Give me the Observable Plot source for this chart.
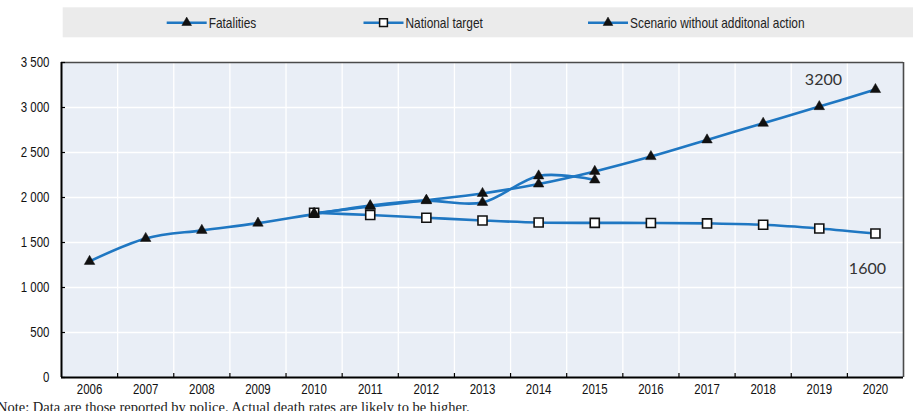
<!DOCTYPE html>
<html>
<head>
<meta charset="utf-8">
<script src="https://cdn.jsdelivr.net/npm/d3@7"></script>
<script src="https://cdn.jsdelivr.net/npm/@observablehq/plot@0.6"></script>
<style>
  html, body { margin: 0; padding: 0; background: #ffffff; overflow: hidden; }
  #wrap { position: relative; width: 913px; height: 411px; overflow: hidden; }
  #legend { position: absolute; left: 0; top: 0; }
  #chart { position: absolute; left: 0; top: 44px; }
  #note { position: absolute; left: -3px; top: 400px; white-space: nowrap;
          font-family: "Liberation Serif", "DejaVu Serif", serif; font-size: 14.5px; line-height: 1; color: #222; }
</style>
</head>
<body>
<div id="wrap">
  <div id="legend"></div>
  <div id="chart"></div>
  <div id="note">Note: Data are those reported by police. Actual death rates are likely to be higher.</div>
</div>
<script>
// ---- Data ----
const years = [2006, 2007, 2008, 2009, 2010, 2011, 2012, 2013, 2014, 2015, 2016, 2017, 2018, 2019, 2020];
const fatalities = [1290, 1545, 1635, 1715, 1815, 1910, 1965, 1945, 2240, 2195, null, null, null, null, null];
const nationalTarget = [null, null, null, null, 1830, 1805, 1775, 1745, 1722, 1718, 1717, 1712, 1697, 1656, 1600];
const scenario = [null, null, null, null, 1825, 1900, 1970, 2045, 2150, 2290, 2455, 2640, 2825, 3010, 3200];
const seriesNames = ["Fatalities", "National target", "Scenario without additonal action"];
const yTicks = [0, 500, 1000, 1500, 2000, 2500, 3000, 3500];
const endLabels = [{series: "target", text: "1600"}, {series: "scenario", text: "3200"}];

// ---- Styles ----
const blue = "#1f77c2";
const bg = "#e9eef6";
const sans = "'Liberation Sans', Arial, sans-serif";
const condenseFactor = 0.82; // emulate a narrow face

const rows = [];
years.forEach((yr, i) => {
  rows.push({year: yr, series: "fatalities", value: fatalities[i]});
  rows.push({year: yr, series: "target", value: nationalTarget[i]});
  rows.push({year: yr, series: "scenario", value: scenario[i]});
});
const bySeries = s => rows.filter(d => d.series === s);
const defined = s => bySeries(s).filter(d => d.value != null);

const xMin = d3.min(years) - 0.5, xMax = d3.max(years) + 0.5;
const boundaries = years.slice(0, -1).map(y => y + 0.5);
const yMax = d3.max(yTicks);
const fmt = d3.formatLocale({decimal: ".", thousands: " ", grouping: [3], currency: ["", ""]}).format(",d");

const lastPoint = s => { const d = defined(s); return d[d.length - 1]; };
const labelRows = endLabels.map(l => ({...lastPoint(l.series), text: l.text}));

const chart = Plot.plot({
  width: 913,
  height: 351,
  marginTop: 18,
  marginBottom: 18,
  marginLeft: 61,
  marginRight: 10,
  style: {fontFamily: sans, fontSize: "14px", color: "#111", background: "transparent", overflow: "visible"},
  x: {domain: [xMin, xMax], label: null},
  y: {domain: [0, yMax], label: null},
  marks: [
    Plot.frame({fill: bg, stroke: null}),
    Plot.ruleY(yTicks.filter(v => v > 0 && v < yMax), {stroke: "#ffffff", strokeWidth: 1.3}),
    Plot.ruleX(boundaries, {stroke: "#ffffff", strokeWidth: 1.3}),
    Plot.ruleY([yMax], {stroke: "#4a4a4a", strokeWidth: 1.6}),
    Plot.ruleX([xMax], {stroke: "#4a4a4a", strokeWidth: 1.6}),
    Plot.ruleX([xMin], {stroke: "#000000", strokeWidth: 2}),
    Plot.ruleY([0], {stroke: "#000000", strokeWidth: 2}),
    Plot.ruleX(boundaries, {y1: 0, y2: 0, insetTop: -4, stroke: "#000", strokeWidth: 1.2}),
    Plot.ruleY(yTicks, {x1: xMin, x2: xMin, insetRight: -4, stroke: "#000", strokeWidth: 1.2}),
    Plot.axisX({ticks: years, tickFormat: d => String(d), tickSize: 0, tickPadding: 7, fontSize: 14, fill: "#111", label: null}),
    Plot.axisY({ticks: yTicks, tickFormat: fmt, tickSize: 0, tickPadding: 12, fontSize: 14, fill: "#111", label: null}),
    Plot.line(bySeries("target"), {x: "year", y: "value", stroke: blue, strokeWidth: 2.6, curve: "cardinal"}),
    Plot.line(bySeries("scenario"), {x: "year", y: "value", stroke: blue, strokeWidth: 2.6, curve: "cardinal"}),
    Plot.line(bySeries("fatalities"), {x: "year", y: "value", stroke: blue, strokeWidth: 2.6, curve: "cardinal"}),
    Plot.dot(defined("target"), {x: "year", y: "value", symbol: "square", r: 5.1, fill: "#ffffff", stroke: "#111", strokeWidth: 1.6}),
    Plot.dot(defined("scenario"), {x: "year", y: "value", symbol: "triangle", r: 3.9, fill: "#111", stroke: "#111", strokeWidth: 0.5}),
    Plot.dot(defined("fatalities"), {x: "year", y: "value", symbol: "triangle", r: 3.9, fill: "#111", stroke: "#111", strokeWidth: 0.5}),
    Plot.text(labelRows.filter(d => d.series === "scenario"), {x: "year", y: "value", text: "text", dx: -52, dy: -10,
      fontFamily: "Lato, 'Open Sans', sans-serif", fontSize: 16, fill: "#333", textAnchor: "middle", lineAnchor: "middle"}),
    Plot.text(labelRows.filter(d => d.series === "target"), {x: "year", y: "value", text: "text", dx: -8, dy: 35,
      fontFamily: "Lato, 'Open Sans', sans-serif", fontSize: 16, fill: "#333", textAnchor: "middle", lineAnchor: "middle"})
  ]
});
document.getElementById("chart").appendChild(chart);

function condense(nodes) {
  nodes.forEach(t => {
    const w = t.getComputedTextLength();
    if (w > 0) {
      t.setAttribute("textLength", (w * condenseFactor).toFixed(2));
      t.setAttribute("lengthAdjust", "spacingAndGlyphs");
    }
  });
}
condense(chart.querySelectorAll('g[aria-label$="tick label"] text'));

// ---- Legend ----
const lg = d3.select("#legend").append("svg").attr("width", 913).attr("height", 44);
lg.append("rect").attr("x", 62.7).attr("y", 7.3).attr("width", 913 - 62.7).attr("height", 30).attr("fill", "#ebebeb");
const legendItems = [
  {name: seriesNames[0], x: 166.7, symbol: d3.symbolTriangle, fill: "#111", r: 3.6, sw: 0.5},
  {name: seriesNames[1], x: 363.5, symbol: d3.symbolSquare, fill: "#fff", r: 4.4, sw: 1.5},
  {name: seriesNames[2], x: 588, symbol: d3.symbolTriangle, fill: "#111", r: 3.6, sw: 0.5}
];
const ly = 22.7;
legendItems.forEach(it => {
  const g = lg.append("g");
  g.append("line").attr("x1", it.x).attr("x2", it.x + 40).attr("y1", ly).attr("y2", ly)
    .attr("stroke", blue).attr("stroke-width", 2.6);
  g.append("path").attr("d", d3.symbol(it.symbol, it.r * it.r * Math.PI)())
    .attr("transform", `translate(${it.x + 20},${ly})`)
    .attr("fill", it.fill).attr("stroke", "#111").attr("stroke-width", it.sw);
  g.append("text").attr("x", it.x + 42).attr("y", ly).attr("dy", "0.36em")
    .attr("font-family", sans).attr("font-size", 14.5).attr("fill", "#222").text(it.name);
});
condense(lg.selectAll("text").nodes());
</script>
</body>
</html>
